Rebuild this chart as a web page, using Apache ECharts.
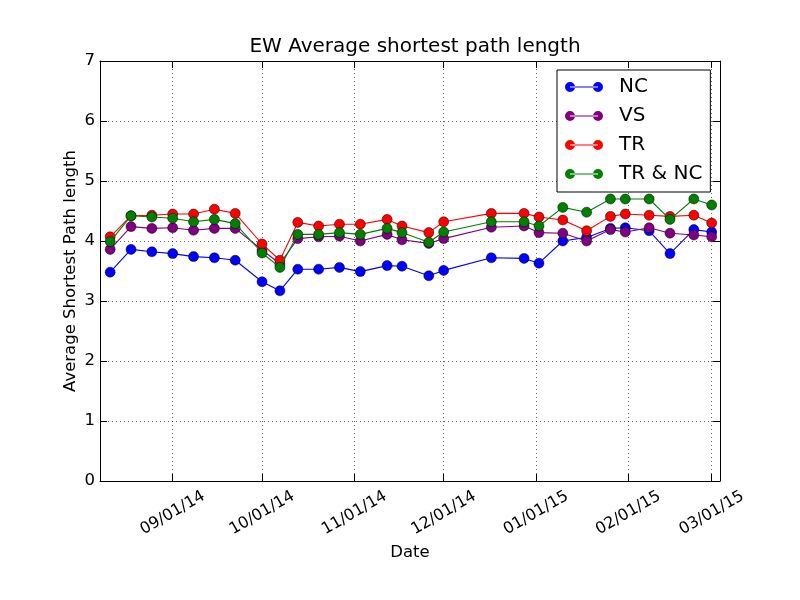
<!DOCTYPE html>
<html>
<head>
<meta charset="utf-8">
<script src="https://cdn.jsdelivr.net/npm/echarts@6/dist/echarts.min.js"></script>
<style>html,body{margin:0;padding:0;background:#fff;}#c{width:800px;height:600px;}</style>
</head>
<body>
<div id="c"></div>
<script>
var dates = ['2014-08-11','2014-08-18','2014-08-25','2014-09-01','2014-09-08','2014-09-15','2014-09-22',
  '2014-10-01','2014-10-07','2014-10-13','2014-10-20','2014-10-27','2014-11-03','2014-11-12','2014-11-17',
  '2014-11-26','2014-12-01','2014-12-17','2014-12-28','2015-01-02','2015-01-10','2015-01-18','2015-01-26',
  '2015-01-31','2015-02-08','2015-02-15','2015-02-23','2015-03-01'];
var seriesNames = ['NC', 'VS', 'TR', 'TR & NC'];
var ncValues = [3.48,3.86,3.82,3.79,3.74,3.72,3.68,3.32,3.17,3.53,3.53,3.56,3.49,3.59,3.58,3.42,3.51,3.72,3.71,3.63,4.00,4.06,4.21,4.22,4.17,3.79,4.19,4.15];
var vsValues = [3.86,4.24,4.21,4.22,4.18,4.21,4.21,3.85,3.62,4.04,4.07,4.08,4.00,4.11,4.02,3.96,4.04,4.23,4.25,4.14,4.13,4.00,4.19,4.15,4.22,4.13,4.10,4.07];
var trValues = [4.07,4.42,4.43,4.45,4.45,4.53,4.46,3.95,3.68,4.31,4.25,4.28,4.28,4.36,4.25,4.14,4.32,4.46,4.46,4.40,4.35,4.17,4.41,4.45,4.43,4.41,4.43,4.30];
var trncValues = [3.99,4.42,4.40,4.38,4.32,4.36,4.29,3.80,3.56,4.11,4.11,4.14,4.11,4.21,4.14,3.98,4.15,4.32,4.32,4.25,4.56,4.48,4.70,4.70,4.70,4.36,4.70,4.60];
var monthTicks = ['2014-09-01','2014-10-01','2014-11-01','2014-12-01','2015-01-01','2015-02-01','2015-03-01'];
var yTicks = [0,1,2,3,4,5,6,7];

function ts(s){ var p = s.split('-'); return Date.UTC(+p[0], +p[1]-1, +p[2]); }
function fmt(v){ var d = new Date(v); function z(n){return (n<10?'0':'')+n;}
  return z(d.getUTCMonth()+1) + '/' + z(d.getUTCDate()) + '/' + z(d.getUTCFullYear() % 100); }
var tickTs = monthTicks.map(ts);
var xMin = ts('2014-08-07') + 14*3600000;
var xMax = ts('2015-03-03') + 19*3600000;

var colors = ['#0000ff', '#800080', '#ff0000', '#008000'];
var allValues = [ncValues, vsValues, trValues, trncValues];
var font = 'DejaVu Sans';

var legendIcon = 'path://M0,5 A5,5 0 1,0 10,5 A5,5 0 1,0 0,5 Z M28,5 A5,5 0 1,0 38,5 A5,5 0 1,0 28,5 Z M5,4.4 L33,4.4 L33,5.6 L5,5.6 Z';

var series = seriesNames.map(function(name, i){
  return {
    name: name, type: 'line',
    data: dates.map(function(d, j){ return [ts(d), allValues[i][j]]; }),
    symbol: 'circle', symbolSize: 10,
    lineStyle: { color: colors[i], width: 1.1 },
    itemStyle: { color: colors[i], borderColor: '#000', borderWidth: 0.5 },
    emphasis: { disabled: true },
    z: 3 + i
  };
});

var chart = echarts.init(document.getElementById('c'), null, { renderer: 'canvas' });
chart.setOption({
  animation: false,
  backgroundColor: '#fff',
  textStyle: { fontFamily: font },
  title: {
    text: 'EW Average shortest path length',
    left: 410, top: 32, textAlign: 'center',
    textStyle: { fontFamily: font, fontSize: 20, fontWeight: 'normal', color: '#000' }
  },
  grid: { left: 100, right: 80, top: 61, bottom: 119, containLabel: false },
  legend: {
    orient: 'vertical', left: 557, top: 70,
    data: seriesNames,
    icon: legendIcon, itemWidth: 38, itemHeight: 10, itemGap: 9,
    padding: [7, 8, 8, 8],
    backgroundColor: '#fff', borderColor: '#000', borderWidth: 1, borderRadius: 0,
    itemStyle: { borderWidth: 0 },
    textStyle: { fontFamily: font, fontSize: 20, color: '#000', lineHeight: 20, padding: [0, 0, 0, 11] },
    selectedMode: false
  },
  xAxis: [{
    type: 'value', min: xMin, max: xMax, position: 'bottom',
    name: 'Date', nameLocation: 'middle', nameGap: 63, nameMoveOverlap: false,
    nameTextStyle: { fontFamily: font, fontSize: 16.5, color: '#000' },
    axisLine: { show: true, onZero: false, lineStyle: { color: '#000', width: 1 } },
    axisTick: { show: true, inside: true, length: 7, customValues: tickTs, lineStyle: { color: '#000' } },
    axisLabel: { show: true, customValues: tickTs, rotate: 30, align: 'center', verticalAlign: 'middle', margin: 32,
      fontFamily: font, fontSize: 16, color: '#000', formatter: function(v){ return fmt(v); } },
    splitLine: { show: true, lineStyle: { color: '#000', width: 0.6, type: [1, 3] } }
  }, {
    type: 'value', min: xMin, max: xMax, position: 'top',
    axisLine: { show: true, onZero: false, lineStyle: { color: '#000', width: 1 } },
    axisTick: { show: true, inside: true, length: 7, customValues: tickTs, lineStyle: { color: '#000' } },
    axisLabel: { show: false, customValues: tickTs },
    splitLine: { show: false }
  }],
  yAxis: [{
    type: 'value', min: 0, max: 7, interval: 1, position: 'left',
    name: 'Average Shortest Path length', nameLocation: 'middle', nameGap: 21, nameRotate: 90, nameMoveOverlap: false,
    nameTextStyle: { fontFamily: font, fontSize: 16.5, color: '#000' },
    axisLine: { show: true, onZero: false, lineStyle: { color: '#000', width: 1 } },
    axisTick: { show: true, inside: true, length: 7, lineStyle: { color: '#000' } },
    axisLabel: { show: true, margin: 5, fontFamily: font, fontSize: 16.5, color: '#000',
      formatter: function(v){ return yTicks.indexOf(v) >= 0 ? String(v) : ''; } },
    splitLine: { show: true, lineStyle: { color: '#000', width: 0.6, type: [1, 3] } }
  }, {
    type: 'value', min: 0, max: 7, interval: 1, position: 'right',
    axisLine: { show: true, onZero: false, lineStyle: { color: '#000', width: 1 } },
    axisTick: { show: true, inside: true, length: 7, lineStyle: { color: '#000' } },
    axisLabel: { show: false },
    splitLine: { show: false }
  }],
  series: series
});
</script>
</body>
</html>
